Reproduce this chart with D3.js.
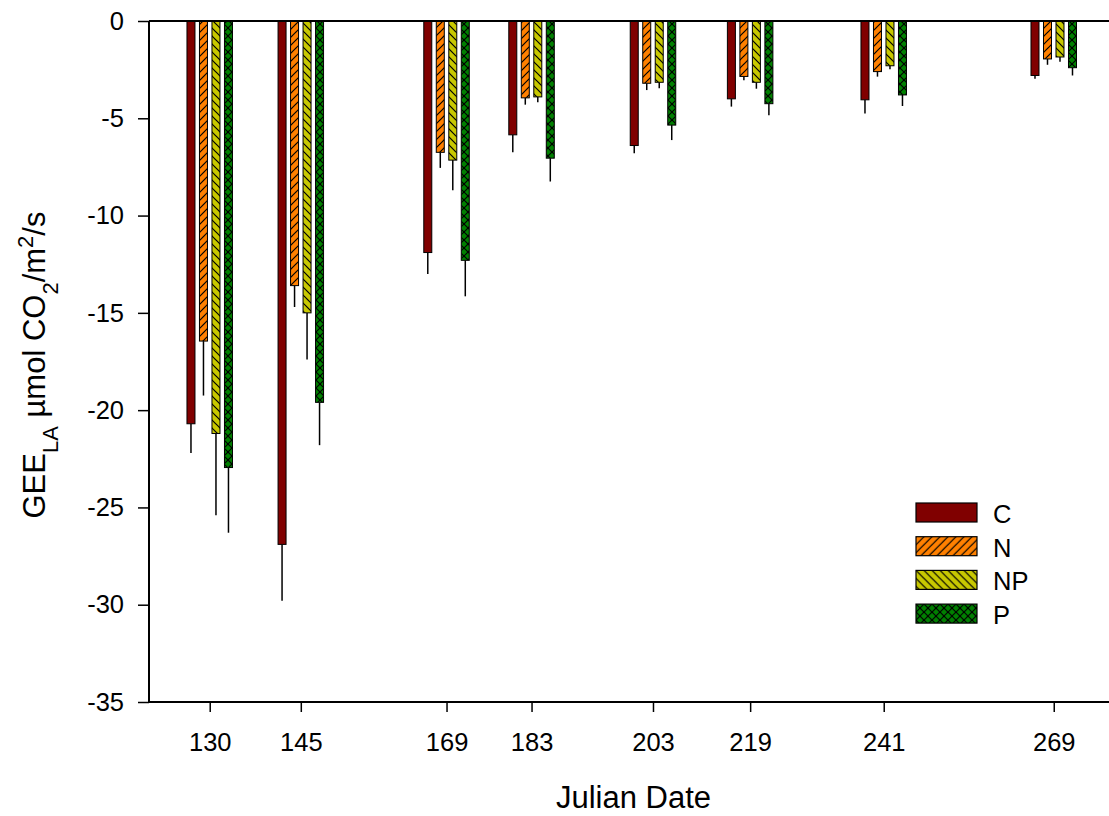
<!DOCTYPE html>
<html lang="en">
<head>
<meta charset="UTF-8">
<title>GEE by Julian Date</title>
<script src="https://d3js.org/d3.v7.min.js"></script>
<style>
  body { margin: 0; background: #fff; }
  text { font-family: "Liberation Sans", Arial, sans-serif; fill: #000; }
</style>
</head>
<body>
<svg id="chart" width="1109" height="816"></svg>
<script>
// data
const dates = [130, 145, 169, 183, 203, 219, 241, 269];
const treatments = ["C", "N", "NP", "P"];
const valC  = [-20.7, -26.9, -11.9, -5.85, -6.4, -4.0, -4.05, -2.8];
const valN  = [-16.45, -13.6, -6.75, -3.95, -3.2, -2.85, -2.6, -1.95];
const valNP = [-21.2, -15.0, -7.15, -3.9, -3.15, -3.15, -2.3, -1.85];
const valP  = [-22.95, -19.6, -12.3, -7.05, -5.35, -4.25, -3.8, -2.4];
const errC  = [1.5, 2.9, 1.1, 0.9, 0.4, 0.4, 0.7, 0.17];
const errN  = [2.8, 1.1, 0.8, 0.35, 0.35, 0.2, 0.26, 0.3];
const errNP = [4.2, 2.4, 1.55, 0.27, 0.3, 0.33, 0.18, 0.25];
const errP  = [3.35, 2.2, 1.85, 1.2, 0.77, 0.6, 0.57, 0.4];
const yTicks = [0, -5, -10, -15, -20, -25, -30, -35];

const values = [valC, valN, valNP, valP];
const errors = [errC, errN, errNP, errP];
const fills = ["#800000", "#ff8000", "#c8c800", "#008000"];
const patterns = [null, "hatchN", "hatchNP", "hatchP"];

const svg = d3.select("#chart");
const m = { left: 149, top: 21, right: 1109, bottom: 702 };

const x = d3.scaleLinear().domain([120, 278.1]).range([m.left, m.right]);
const y = d3.scaleLinear().domain([0, -35]).range([m.top, m.bottom]);

// hatch patterns
const defs = svg.append("defs");
function pattern(id, color, paths) {
  const p = defs.append("pattern")
    .attr("id", id)
    .attr("patternUnits", "userSpaceOnUse")
    .attr("width", 8).attr("height", 8);
  p.append("rect").attr("width", 8).attr("height", 8).attr("fill", color);
  paths.forEach(d => p.append("path").attr("d", d)
    .attr("stroke", "#000").attr("stroke-width", 1.2).attr("fill", "none"));
}
pattern("hatchN", fills[1], ["M0,8 L8,0", "M-2,2 L2,-2", "M6,10 L10,6"]);
pattern("hatchNP", fills[2], ["M0,0 L8,8", "M-2,6 L2,10", "M6,-2 L10,2"]);
pattern("hatchP", fills[3], ["M0,8 L8,0", "M-2,2 L2,-2", "M6,10 L10,6",
                             "M0,0 L8,8", "M-2,6 L2,10", "M6,-2 L10,2"]);

const fillOf = i => patterns[i] ? `url(#${patterns[i]})` : fills[i];

// bars
const barW = 8, pitch = 12.5;
treatments.forEach((t, i) => {
  const g = svg.append("g");
  const rows = dates.map((d, j) => ({ d, v: values[i][j], e: errors[i][j] }));
  g.selectAll("line.err").data(rows).join("line")
    .attr("class", "err")
    .attr("x1", r => x(r.d) + (i - 1.5) * pitch)
    .attr("x2", r => x(r.d) + (i - 1.5) * pitch)
    .attr("y1", r => y(r.v))
    .attr("y2", r => y(r.v - r.e))
    .attr("stroke", "#000").attr("stroke-width", 1.5);
  g.selectAll("rect").data(rows).join("rect")
    .attr("x", r => x(r.d) + (i - 1.5) * pitch - barW / 2)
    .attr("width", barW)
    .attr("y", y(0))
    .attr("height", r => y(r.v) - y(0))
    .attr("fill", fillOf(i))
    .attr("stroke", "#000").attr("stroke-width", 1);
});

// axes
const yAxis = svg.append("g").attr("transform", `translate(${m.left},0)`)
  .call(d3.axisLeft(y).tickValues(yTicks).tickSize(11).tickPadding(14)
    .tickFormat(d => String(d)));
const xAxis = svg.append("g").attr("transform", `translate(0,${m.bottom})`)
  .call(d3.axisBottom(x).tickValues(dates).tickSize(10).tickPadding(21));
[yAxis, xAxis].forEach(a => {
  a.select(".domain").attr("stroke-width", 2);
  a.selectAll(".tick line").attr("stroke-width", 1.5);
  a.selectAll("text").style("font-size", "25.5px").attr("font-family", null);
});
xAxis.select(".domain").attr("d", `M${m.left},0H${m.right}`);
yAxis.select(".domain").attr("d", `M0,${m.top}V${m.bottom}`);

// zero line along the top
svg.append("line")
  .attr("x1", m.left).attr("x2", m.right)
  .attr("y1", y(0)).attr("y2", y(0))
  .attr("stroke", "#000").attr("stroke-width", 2);

// axis titles
svg.append("text")
  .attr("x", 633.5).attr("y", 808)
  .attr("text-anchor", "middle")
  .style("font-size", "31px")
  .text("Julian Date");

const yt = svg.append("text")
  .attr("transform", "translate(45,365) rotate(-90)")
  .attr("text-anchor", "middle")
  .style("font-size", "31px");
yt.append("tspan").text("GEE");
yt.append("tspan").text("LA").attr("baseline-shift", "sub").style("font-size", "22px");
yt.append("tspan").text(" \u00b5mol CO");
yt.append("tspan").text("2").attr("baseline-shift", "sub").style("font-size", "22px");
yt.append("tspan").text("/m");
yt.append("tspan").text("2").attr("baseline-shift", "super").style("font-size", "22px");
yt.append("tspan").text("/s");

// legend
const leg = svg.append("g").attr("transform", "translate(916,503)");
treatments.forEach((t, i) => {
  const row = leg.append("g").attr("transform", `translate(0,${i * 33.7})`);
  row.append("rect").attr("width", 61).attr("height", 19)
    .attr("fill", fillOf(i)).attr("stroke", "#000").attr("stroke-width", 1.2);
  row.append("text").attr("x", 77).attr("y", 20)
    .style("font-size", "25.5px").text(t);
});
</script>
</body>
</html>
